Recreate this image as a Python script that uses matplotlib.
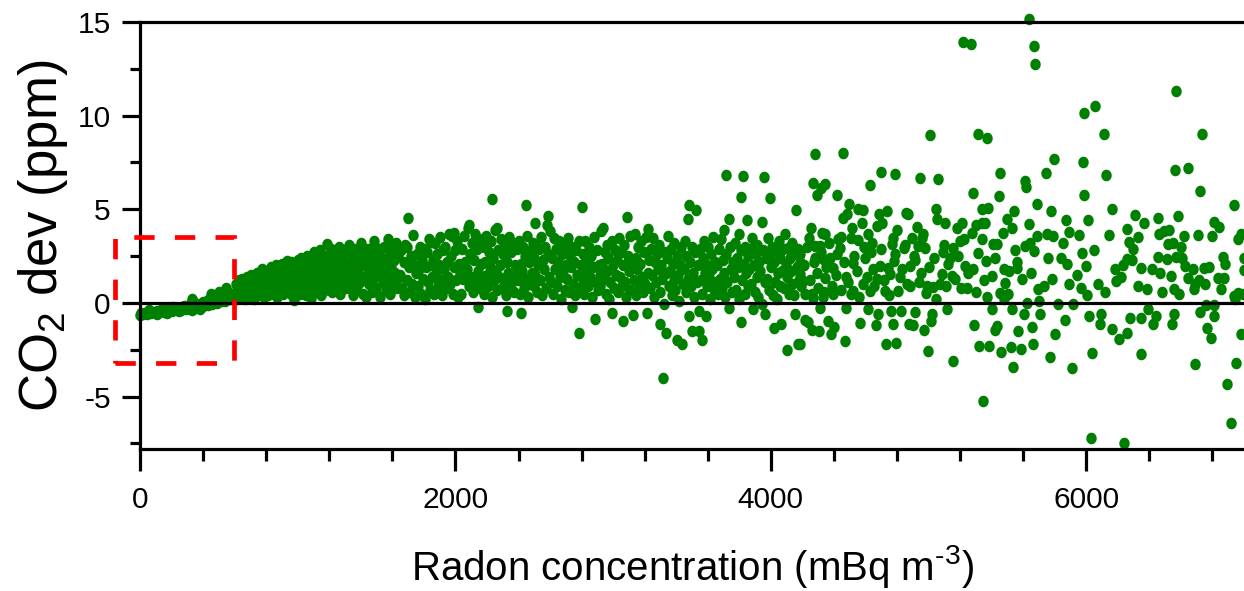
# CO2 deviation vs radon concentration scatter
import numpy as np
import matplotlib
matplotlib.use('Agg')
import matplotlib.pyplot as plt
from matplotlib.ticker import MultipleLocator
from matplotlib.patches import Rectangle

plt.rcParams['font.family'] = ['Liberation Sans', 'DejaVu Sans']
plt.rcParams['mathtext.fontset'] = 'custom'
plt.rcParams['mathtext.rm'] = 'Liberation Sans'
plt.rcParams['axes.unicode_minus'] = False

GREEN = '#008000'

# --- data (radon in mBq m-3, CO2 dev in ppm) ---
# low-radon band, 0-600
radon_low = [0, 8, 18, 30, 42, 55, 68, 80, 95, 108, 120, 135, 150, 163, 178, 192, 205, 220,
             234, 248, 262, 276, 290, 303, 318, 332, 346, 360, 374, 388, 402, 416, 430, 444,
             458, 472, 486, 500, 514, 528, 542, 556, 570, 584, 596, 60, 140, 210, 280, 320,
             350, 400, 430, 470, 520, 560, 250, 330, 380, 110, 170, 330, 450, 546, 500]
co2_low = [-0.62, -0.55, -0.6, -0.52, -0.57, -0.49, -0.55, -0.47, -0.52, -0.44, -0.5, -0.42,
           -0.47, -0.38, -0.44, -0.35, -0.41, -0.33, -0.39, -0.3, -0.36, -0.27, -0.33, -0.22,
           -0.3, -0.18, -0.26, -0.12, -0.22, -0.08, -0.16, -0.02, -0.12, 0.05, -0.05, 0.12,
           0.02, 0.18, 0.08, 0.25, 0.12, 0.35, 0.2, 0.5, 0.28, -0.38, -0.3, -0.22, -0.15,
           -0.05, 0.02, 0.05, 0.15, 0.3, 0.45, 0.6, -0.45, -0.4, -0.3, -0.58, -0.52, 0.2,
           0.5, 0.8, 0.6]

# rising part, 600-1650
radon_rise = [604, 609, 614, 619, 625, 631, 636, 642, 648, 653, 659, 665, 671, 676, 682, 688,
              694, 700, 706, 712, 718, 724, 730, 736, 742, 748, 754, 760, 766, 772, 778, 784,
              790, 796, 802, 808, 814, 820, 826, 832, 838, 844, 850, 856, 862, 868, 874, 880,
              886, 892, 898, 904, 910, 916, 922, 928, 934, 940, 946, 952, 958, 964, 970, 978,
              982, 988, 994, 1000, 1006, 1012, 1018, 1024, 1030, 1036, 1042, 1048, 1054, 1060,
              1066, 1072, 1078, 1086, 1090, 1096, 1102, 1108, 1114, 1120, 1126, 1132, 1138,
              1144, 1150, 1156, 1162, 1168, 1174, 1180, 1187, 1192, 1198, 1204, 1210, 1216,
              1222, 1228, 1234, 1240, 1246, 1252, 1258, 1264, 1270, 1276, 1282, 1288, 1294,
              1300, 1306, 1312, 1318, 1324, 1330, 1336, 1342, 1348, 1354, 1360, 1366, 1372,
              1378, 1384, 1390, 1396, 1402, 1408, 1414, 1420, 1426, 1435, 1438, 1444, 1450,
              1456, 1462, 1468, 1474, 1480, 1486, 1492, 1498, 1504, 1510, 1516, 1522, 1528,
              1534, 1540, 1546, 1552, 1558, 1564, 1570, 1576, 1582, 1588, 1594, 1600, 1606,
              1612, 1618, 1624, 1630, 1636, 1642]
co2_rise = [0.5, 1.0, 0.2, 0.7, 1.2, 0.4, 0.9, 0.3, 1.3, 0.6, 1.0, 0.2, 0.8, 1.4, 0.5, 1.1,
            0.3, 0.8, 1.5, 0.6, 1.1, 0.2, 1.3, 0.8, 1.6, 0.4, 1.0, 1.4, 0.6, 1.8, 0.9, 0.3,
            1.3, 0.7, 1.7, 1.1, 0.4, 1.5, 0.8, 1.9, 1.2, 0.5, 1.6, 1.0, 2.0, 0.3, 1.3, 1.8,
            0.7, 1.1, 2.1, 0.5, 1.5, 1.0, 1.9, 0.6, 2.24, 1.3, 0.9, 1.7, 2.2, 0.4, 1.2, 0.16,
            1.9, 0.8, 1.5, 2.3, 1.0, 0.5, 1.8, 2.4, 1.2, 0.7, 2.0, 1.5, 0.4, 2.5,
            1.1, 1.7, 0.8, 0.27, 2.2, 1.4, 2.7, 0.6, 1.9, 1.2, 2.4, 0.9, 1.6,
            2.8, 0.4, 2.1, 1.3, 1.8, 0.7, 2.5, 3.14, 1.0, 2.0, 1.5, 2.9, 0.6,
            2.3, 1.2, 1.8, 2.6, 0.9, 2.1, 1.4, 3.0, 0.5, 1.9, 2.5, 1.1, 1.7,
            2.8, 0.8, 2.2, 1.5, 3.1, 1.0, 2.0, 2.6, 0.4, 1.8, 2.9, 1.3, 2.3,
            0.7, 1.6, 2.7, 1.1, 3.2, 2.0, 0.5, 2.5, 1.4, 0.32, 1.9, 2.9, 1.0,
            2.3, 1.6, 0.6, 2.7, 1.3, 3.3, 2.0, 0.8, 2.5, 1.5, 2.9, 0.3, 1.9,
            2.4, 1.1, 3.0, 1.7, 0.7, 2.2, 3.4, 1.3, 2.6, 0.5, 1.9, 2.9, 1.0,
            2.3, 1.6, 3.2, 0.8, 2.5, 1.4]

# middle part, 1650-4200
radon_mid = [1650, 1658, 1664, 1671, 1676, 1683, 1690, 1695, 1702, 1706, 1713, 1719, 1727, 1734, 1738, 1744, 1748,
             1754, 1760, 1767, 1773, 1779, 1786, 1792, 1799, 1805, 1811, 1818, 1824, 1831, 1837, 1842, 1847, 1853,
             1860, 1866, 1873, 1879, 1885, 1891, 1898, 1904, 1910, 1917, 1923, 1929, 1936, 1942, 1948, 1955, 1961,
             1966, 1972, 1978, 1984, 1990, 1994, 2000, 2006, 2012, 2018, 2024, 2030, 2037, 2043, 2050, 2056, 2062,
             2071, 2077, 2083, 2089, 2094, 2100, 2106, 2112, 2118, 2124, 2130, 2136, 2142, 2146, 2152, 2158, 2164, 2170,
             2178, 2184, 2190, 2196, 2202, 2208, 2214, 2220, 2229, 2226, 2232, 2238, 2244, 2250, 2256, 2261, 2266, 2272, 2278,
             2283, 2289, 2295, 2301, 2307, 2313, 2319, 2324, 2330, 2336, 2342, 2348, 2354, 2360, 2366, 2372, 2378, 2384,
             2390, 2396, 2402, 2408, 2413, 2418, 2424, 2430, 2436, 2445, 2442, 2448, 2454, 2460, 2466, 2472, 2478, 2484, 2490,
             2502, 2496, 2500, 2507, 2513, 2519, 2525, 2531, 2537, 2543, 2549, 2555, 2561, 2567, 2573, 2578, 2585, 2590, 2596,
             2602, 2608, 2614, 2620, 2626, 2632, 2638, 2644, 2650, 2656, 2662, 2668, 2674, 2680, 2686, 2692, 2698,
             2706, 2712, 2718, 2724, 2730, 2737, 2742, 2748, 2754, 2760, 2766, 2772, 2781, 2784, 2790, 2796, 2800, 2806,
             2812, 2818, 2824, 2830, 2836, 2842, 2848, 2854, 2860, 2866, 2872, 2878, 2883, 2890, 2896, 2902, 2908, 2914,
             2918, 2924, 2930, 2934, 2940, 2946, 2952, 2958, 2964, 2970, 2976, 2982, 2991, 2994, 3000, 3006, 3012, 3018,
             3024, 3030, 3036, 3042, 3048, 3054, 3061, 3064, 3070, 3076, 3082, 3086, 3092, 3098, 3104, 3110, 3116, 3124,
             3130, 3136, 3142, 3148, 3154, 3160, 3166, 3172, 3178, 3184, 3190, 3196, 3202, 3208, 3213, 3219, 3222, 3228,
             3236, 3242, 3248, 3254, 3260, 3266, 3272, 3278, 3284, 3290, 3296, 3300, 3306, 3312, 3315, 3322, 3328, 3334, 3336,
             3341, 3347, 3353, 3359, 3365, 3371, 3377, 3383, 3389, 3395, 3404, 3407, 3413, 3419, 3425, 3435, 3431, 3440,
             3447, 3453, 3459, 3465, 3473, 3480, 3480, 3476, 3486, 3492, 3499, 3502, 3508, 3514, 3520, 3524, 3530, 3536, 3544, 3546,
             3553, 3562, 3559, 3566, 3572, 3578, 3588, 3584, 3592, 3598, 3604, 3610, 3616, 3622, 3628, 3634, 3640, 3646, 3652,
             3659, 3665, 3671, 3677, 3683, 3689, 3695, 3702, 3706, 3715, 3712, 3718, 3724, 3734, 3734, 3740, 3746, 3752, 3758,
             3765, 3771, 3777, 3783, 3789, 3795, 3801, 3810, 3810, 3813, 3822, 3819, 3827, 3833, 3839, 3848, 3845, 3852, 3858, 3864,
             3871, 3877, 3886, 3883, 3891, 3897, 3903, 3909, 3915, 3921, 3927, 3933, 3943, 3946, 3950, 3956, 3962, 3960, 3968,
             3977, 3983, 3994, 3989, 3995, 4001, 4007, 4013, 4020, 4019, 4025, 4031, 4037, 4043, 4049, 4055, 4064, 4061, 4070, 4076,
             4083, 4089, 4095, 4102, 4101, 4107, 4113, 4119, 4125, 4131, 4137, 4143, 4153, 4149, 4159, 4163, 4172, 4169, 4178, 4184]
co2_mid = [1.5, 2.8, 0.8, 2.2, 0.4, 3.1, 1.2, 2.98, 4.53, 1.9, 0.6, 2.5, 1.0, 3.62, 2.0, 0.3, 1.6,
           2.6, 0.9, 1.8, 3.0, 0.5, 2.3, 1.3, 2.9, 0.2, 1.9, 2.7, 1.1, 3.4, 0.7, 3.25, 2.0, 1.4,
           2.3, 0.5, 3.2, 1.6, 2.6, 0.9, 2.0, 3.5, 1.2, 0.4, 2.8, 1.8, 3.0, 0.8, 2.2, 1.4, 3.7,
           1.0, 2.5, 3.57, 0.5, 1.9, 3.73, 2.8, 1.2, 3.3, 0.3, 2.1, 1.6, 0.46, 2.9, 1.3, 3.6, 2.2,
           1.8, 4.01, 0.9, 4.15, 2.6, 1.4, 3.2, 0.6, 2.3, 3.7, 1.1, 2.9, 1.7, -0.21, 3.4, 0.8, 2.1, 1.3,
           3.0, 0.5, 2.2, 3.6, 1.5, 0.9, 2.7, 1.9, 5.54, 3.3, 0.3, 2.4, 1.2, 3.9, 1.7, 3.99, 0.7, 2.8, 1.4,
           2.0, 3.4, 0.8, 2.6, 1.3, 3.0, 0.4, -0.43, 2.2, 1.6, 3.5, 0.9, 2.7, 1.1, 3.2, 0.6, 2.0, 1.5,
           2.9, 1.2, 3.3, 0.5, -0.53, 2.1, 1.7, 3.0, 0.8, 5.22, 2.5, 1.3, 3.6, 0.3, 2.2, 1.0, 2.8, 1.6, 3.2,
           4.26, 0.9, 2.4, 1.5, 3.1, 0.6, 2.0, 2.9, 1.2, 3.5, 0.4, 2.3, 1.8, 3.0, 0.8, 4.15, 4.63, 2.6, 1.4,
           3.84, 1.1, 2.4, 0.5, 3.48, 1.8, 2.9, 0.9, 2.2, 3.3, 1.4, 0.2, 2.6, 1.7, 3.0, 0.7, 2.0,
           1.3, 3.48, 0.6, 2.5, 1.9, -0.21, 3.0, 1.0, 2.2, 0.4, 2.8, 1.5, -1.6, 3.3, 0.8, 2.0, 5.11, 1.2,
           2.6, 0.5, 3.3, 1.7, 2.2, 0.9, 3.0, 1.4, 2.5, 0.3, 1.9, 3.5, -0.85, 1.1, 2.8, 0.7, 2.0, 1.5,
           0.9, 3.84, 2.1, 3.99, 1.3, 2.7, 0.5, 3.1, 1.7, 2.4, 0.2, 1.1, -0.53, 3.3, 2.0, 0.8, 2.8, 1.5,
           2.3, 0.6, 3.48, 1.4, 2.7, 0.9, -0.96, 2.0, 3.1, 1.1, 0.3, 4.58, 2.5, 1.7, 3.6, 0.7, 2.2, -0.64,
           1.2, 3.66, 0.4, 2.4, 1.8, 3.0, 0.9, 2.1, 3.3, 1.4, 0.6, 2.7, 1.0, 3.5, -0.53, 3.94, 1.6, 2.3,
           0.8, 2.9, 1.5, 3.48, 0.3, 2.2, 1.1, 2.6, 1.8, 3.1, -1.12, 0.6, 2.0, 1.3, -3.99, -0.07, 2.7, -1.6, 1.6,
           2.4, 3.57, 0.9, 1.7, 2.9, 0.4, 2.1, 1.2, 3.2, 0.7, -1.97, 2.5, 1.5, 0.1, 2.0, -2.18, 3.0, 1.0,
           1.8, 3.3, 0.6, 2.5, 4.47, 5.22, -0.69, 1.3, 2.2, 0.9, -1.49, 3.0, 1.6, 0.3, 2.7, 4.95, 1.1, 2.0, -1.49, -0.43,
           2.9, -1.97, 1.2, 0.5, 2.4, 3.3, -0.69, 1.6, 2.0, 0.9, 3.0, 1.4, 0.2, 2.6, 1.8, 3.5, 0.7, 2.2, 1.1,
           2.0, 0.5, 2.9, 1.3, 3.4, 0.8, 2.3, 3.89, 1.6, 6.82, 0.3, 2.6, 1.1, 4.47, -0.25, 3.0, 1.8, 0.6, 2.2,
           1.4, 3.2, 0.7, 2.4, 1.9, 3.66, 0.2, 5.64, -1.01, 2.8, 6.76, 1.2, 2.1, 0.5, 3.0, 4.42, 1.6, 2.5, 0.9, 1.8,
           2.9, 1.0, -0.32, 3.48, 2.0, 0.6, 2.6, 1.4, 3.1, 0.3, 2.2, 1.7, 4.31, -0.07, 2.8, 6.71, -0.59, 1.1, 2.4,
           1.3, 3.48, 5.59, 0.7, 2.5, 1.9, 3.0, 0.4, -1.33, 2.2, 1.1, 2.8, 0.2, 1.6, 3.3, 0.9, -1.12, 2.4, 1.7, 2.9,
           0.8, 3.66, 2.1, -2.5, 1.4, 2.95, 0.5, 2.4, 1.7, 3.2, 1.0, 2.6, -0.59, 0.4, 4.95, 1.9, -2.18, 2.9, 1.2, 2.2]

# high-radon part, 4200-7000
radon_high = [5638, 5220, 5270, 5670, 5677, 6572, 5988, 6058, 6115, 6731, 5010, 5315, 5372,
              4280, 4458, 5798, 5982, 6560, 6642, 6128, 5747, 5455, 4699, 4788, 4947, 5061,
              4267, 4343, 4318, 4293, 4629, 4420, 5613, 5620, 5988, 5283, 5448, 6718, 6934,
              6032, 6242, 6915, 5347, 6890, 6947, 6687, 5912, 6039, 5772, 6344, 5537, 5156,
              4998, 5321, 5385, 5461, 5524, 5588, 5664, 4731, 4794, 4470, 4185, 6210, 6261,
              6788, 6979, 5804, 6160, 6763, 5658, 5290, 5423, 5436, 5569, 4382, 4401, 4261,
              4305, 4216, 4235, 4362, 4566, 4667, 4775, 4680, 4762, 4826, 4877, 4902, 4972,
              5016, 4915, 5118, 5023, 5404, 5531, 5607, 5709, 5867, 6020, 6096, 6090, 6280,
              6344, 6394, 6420, 6439, 6541, 6553, 6718, 6807, 6756, 4477, 4617, 4312,
              4185, 4254, 4242, 4280, 4312, 4280, 4331, 4369, 4324, 4343, 4185, 4204, 4216,
              4267, 4331, 4343, 4394, 4420, 4439, 4445, 4458, 4483, 4496, 4515, 4509, 4521,
              4521, 4553, 4585, 4578, 4553, 4598, 4585, 4617, 4642, 4648, 4629, 4686, 4705,
              4737, 4674, 4674, 4693, 4743, 4724, 4756, 4769, 4775, 4801, 4782, 4807, 4845,
              4858, 4870, 4832, 4864, 4883, 4896, 4915, 4928, 4934, 4953, 4959, 4978, 4991,
              4985, 5029, 5036, 5048, 5055, 5074, 5086, 5099, 5105, 5124, 5137, 5150, 5156,
              5181, 5188, 5207, 5213, 5232, 5226, 5245, 5277, 5283, 5302, 5315, 5340, 5340,
              5340, 5359, 5366, 5372, 5378, 5404, 5410, 5436, 5455, 5474, 5480, 5486, 5499,
              5505, 5512, 5531, 5544, 5550, 5563, 5594, 5613, 5626, 5639, 5645, 5670, 5690,
              5690, 5696, 5702, 5753, 5760, 5779, 5785, 5792, 5842, 5823, 5874, 5880, 5893,
              5893, 5918, 5956, 5975, 5969, 6001, 6007, 6013, 6077, 6147, 6166, 6185, 6191,
              6217, 6255, 6274, 6299, 6325, 6312, 6261, 6293, 6350, 6363, 6388, 6414, 6452,
              6452, 6458, 6483, 6490, 6515, 6522, 6509, 6534, 6547, 6553, 6566, 6579, 6585,
              6610, 6617, 6629, 6648, 6674, 6680, 6706, 6712, 6744, 6750, 6775, 6795, 6807,
              6839, 6833, 6852, 6864, 6871, 6934, 6960, 6960, 6979, 6998, 6998, 6992, 6807,
              6941, 4394, 4477,
              4190, 4210, 4228, 4248, 4262, 4275, 4290, 4300, 4320, 4335, 4350, 4372, 4385,
              4410, 4428, 4446, 4462, 4490, 4505, 4530, 4545, 4560, 4590, 4610, 4635, 4655,
              4700, 4715, 4750, 4790, 4820, 4850, 4880, 4905, 4940, 4965, 5005, 5045, 5090,
              5110, 5165, 5200, 5250, 5300, 5350, 5420, 5480, 5560, 5650, 5730, 5850, 5940,
              6050, 6120, 6230, 6330, 6470, 6600, 6690, 6880]
co2_high = [15.18, 13.95, 13.85, 13.74, 12.78, 11.29, 10.12, 10.49, 9.0, 9.0, 8.95, 9.0, 8.79,
            7.93, 7.99, 7.67, 7.51, 7.08, 7.19, 6.82, 6.92, 6.92, 6.98, 6.87, 6.66, 6.6,
            6.39, 6.34, 6.12, 5.75, 6.28, 5.75, 6.5, 6.18, 5.75, 5.86, 5.7, 5.96, 5.22,
            -7.19, -7.46, -6.39, -5.22, -4.31, -3.2, -3.25, -3.46, -2.66, -2.88, -2.72, -3.41, -3.09,
            -2.56, -2.29, -2.29, -2.61, -2.34, -2.45, -2.18, -2.18, -2.13, -2.02, -2.18, -1.92, -1.6,
            -1.86, -1.65, -1.65, -1.38, -1.33, -1.28, -1.17, -1.44, -1.22, -1.49, -1.65, -1.28, -1.44,
            -1.49, -0.91, -1.01, -0.96, -1.06, -1.17, -1.12, -0.59, -0.43, -0.43, -1.12, -1.17, -1.44,
            -0.96, -0.48, -0.32, -0.59, -0.32, -0.32, -0.59, -0.59, -0.91, -0.69, -0.59, -1.12, -0.8,
            -0.8, -0.32, -1.12, -0.69, -1.12, -0.59, -0.48, -0.69, -0.11, -0.27, -0.32, -0.27,
            2.61, 3.99, 3.46, 3.04, 3.04, 2.4, 2.34, 3.2, 3.73, 3.67, 1.54, 1.17, 0.48,
            0.27, 0.32, 1.33, 1.86, 2.61, 2.93, 3.51, 4.53, 4.74, 5.27, 3.99, 3.46, 2.13,
            0.64, 5.0, 4.95, 4.26, 3.36, 2.4, 1.01, 3.67, 3.2, 1.81, 0.64, 4.74, 4.26,
            4.9, 4.1, 1.28, 1.97, 1.86, 0.64, 1.54, 3.14, 3.46, 3.89, 2.24, 0.64, 2.93,
            4.79, 4.74, 1.81, 1.01, 1.97, 3.46, 2.29, 4.05, 3.04, 1.6, 3.46, 2.93, 0.91,
            0.53, 0.85, 2.4, 5.0, 4.47, 1.01, 1.54, 3.09, 4.26, 2.08, 2.4, 1.44, 2.93,
            3.99, 2.5, 0.8, 4.26, 1.97, 3.41, 0.8, 3.73, 1.81, 4.15, 2.66, 5.0, 4.26,
            3.41, 4.26, 2.24, 0.32, 5.06, 1.44, 3.14, 3.14, 0.53, 3.73, 1.81, 1.06, 4.47,
            0.48, 1.7, 3.99, 4.9, 2.82, 1.86, 1.28, 3.04, 0.0, 4.21, 3.2, 2.77, 5.27,
            3.57, 0.75, 0.11, 3.67, 2.4, 4.9, 1.28, 3.57, 2.4, -0.05, 4.42, 2.08, 1.01,
            3.78, -0.05, 3.62, 2.66, 0.8, 1.97, 0.43, 4.42, 1.01, 3.62, 5.0, 1.81, 1.17,
            1.38, 3.94, 3.25, 2.88, 3.51, 4.69, 2.34, 2.29, 1.86, 4.26, 0.75, 1.81, 4.53,
            2.45, 3.67, 0.59, 3.83, 3.14, 3.89, 2.34, 1.44, 3.2, 0.75, 2.45, 4.63, 0.48,
            2.4, 3.57, 1.97, 1.33, 1.81, 0.75, 3.62, 1.22, 1.86, 1.01, 1.92, 3.57, 4.31,
            4.05, 1.33, 0.75, 2.45, 1.33, 0.37, 0.53, 3.41, 3.67, 2.4, 1.76, 0.48, -0.11,
            0.21, 0.48, 1.38,
            0.9, 2.0, 3.0, 1.2, 0.5, 2.2, 1.6, 0.8, 2.7, 0.6, 1.9, 2.4, 0.9,
            1.5, 3.4, 0.7, 2.2, 1.1, 0.5, 2.5, 1.7, 0.3, 3.0, 1.4, 2.7, 0.9,
            2.9, 1.2, 0.4, 2.6, 1.4, 3.1, 0.9, 2.5, 1.1, 3.7, 1.9, 0.2, 2.7,
            0.9, 1.3, 3.3, 1.6, 0.6, 1.2, 2.4, 0.2, 2.2, 1.6, 0.9, 3.2, 1.5,
            2.8, 0.6, 2.0, 0.9, 1.6, 3.0, 1.0, 2.1]

# dashed box marking the low-radon region
box_x = [-158, 596]
box_y = [-3.2, 3.52]

fig = plt.figure(figsize=(12.44, 5.91), dpi=100)
ax = fig.add_axes([140 / 1244, 1 - 449 / 591, 1104 / 1244, 427 / 591])

# slightly tall elliptical dots
t = np.linspace(0, 2 * np.pi, 41)
dot = np.column_stack([0.9 * np.cos(t), np.sin(t)])

for xs, ys in [(radon_low, co2_low), (radon_rise, co2_rise),
               (radon_mid, co2_mid), (radon_high, co2_high)]:
    ax.scatter(xs, ys, s=70, marker=dot, color=GREEN, linewidths=0,
               clip_on=False, zorder=2)

ax.axhline(0, color='black', lw=2.3, zorder=3)

ax.add_patch(Rectangle((box_x[0], box_y[0]), box_x[1] - box_x[0], box_y[1] - box_y[0],
                       fill=False, edgecolor='#ff0000', lw=3.4,
                       linestyle=(0, (4.3, 4.3)), clip_on=False, zorder=4))

ax.set_xlim(0, 7000)
ax.set_ylim(-7.8, 15)

ax.set_xticks([0, 2000, 4000, 6000])
ax.xaxis.set_minor_locator(MultipleLocator(400))
ax.set_yticks([-5, 0, 5, 10, 15])
ax.yaxis.set_minor_locator(MultipleLocator(2.5))

for side in ['left', 'top', 'bottom']:
    ax.spines[side].set_linewidth(2.3)
ax.spines['right'].set_visible(False)

ax.tick_params(axis='x', which='major', length=16, width=2.3, pad=11, labelsize=21.5)
ax.tick_params(axis='x', which='minor', length=8.6, width=2.3)
ax.tick_params(axis='y', which='major', length=13, width=2.3, pad=8, labelsize=21.5)
ax.tick_params(axis='y', which='minor', length=7.2, width=2.3)

ax.set_xlabel('Radon concentration (mBq m$^{\\mathregular{\u20103}}$)', fontsize=29)
ax.xaxis.set_label_coords(0.5, -0.22)
ax.set_ylabel(r'CO$_{\mathregular{2}}$ dev (ppm)', fontsize=38)
ax.yaxis.set_label_coords(-0.0634, 0.5)

fig.savefig('out.png', dpi=100)
